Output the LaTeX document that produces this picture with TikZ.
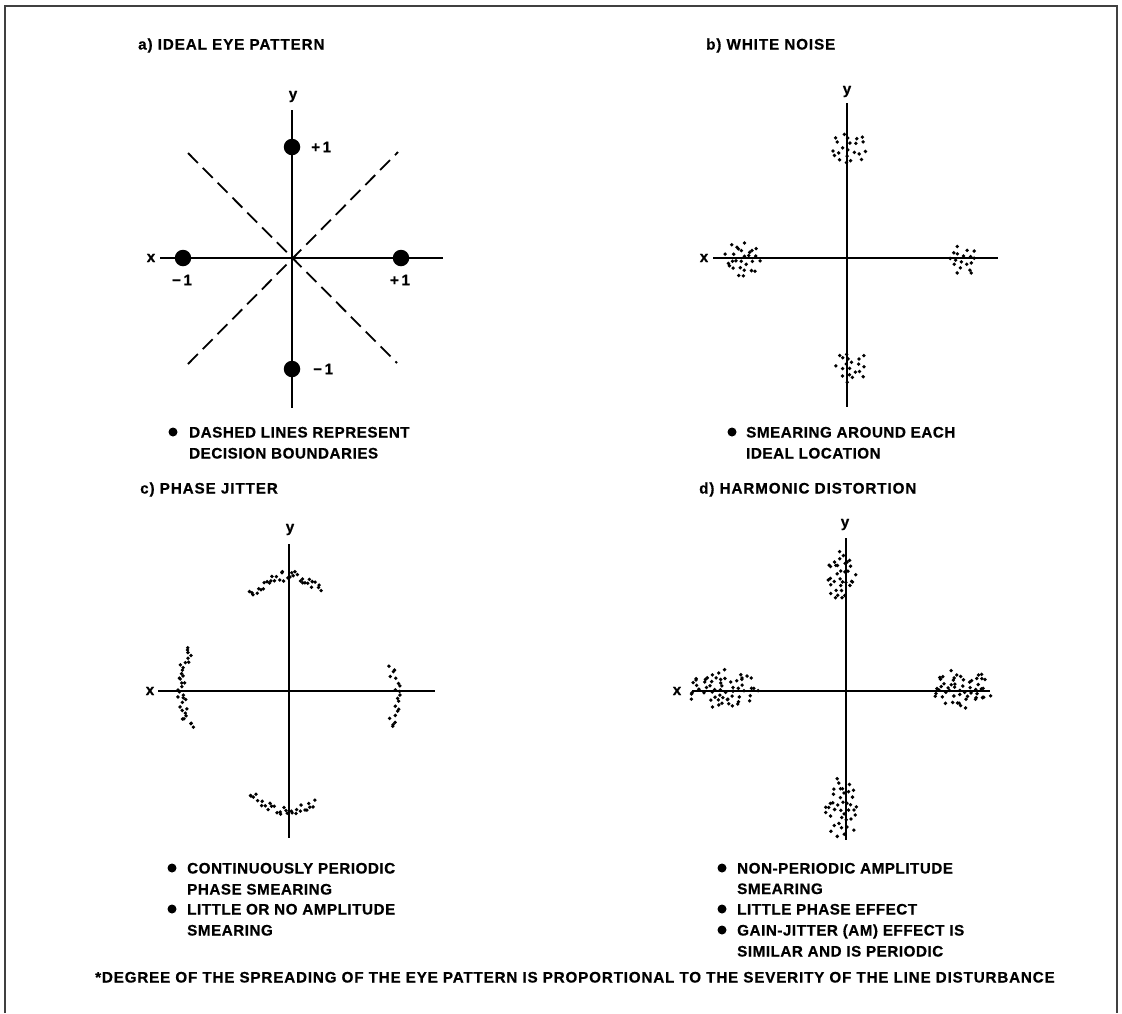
\documentclass[tikz,border=0pt]{standalone}
\usepackage{fontspec}
\setmainfont{Liberation Sans}
\newfontfamily\labfont[LetterSpace=3.5,FakeBold=0.6]{Liberation Sans Bold}
\newfontfamily\titfont[LetterSpace=6,FakeBold=0.6]{Liberation Sans Bold}
\newfontfamily\fnfont[LetterSpace=5.5,FakeBold=0.6]{Liberation Sans Bold}
\usetikzlibrary{calc}

\tikzset{
  ax/.style={line width=2.8pt},
  bnd/.style={line width=1.8pt, dash pattern=on 14pt off 7pt},
  txt/.style={anchor=base west, inner sep=0pt, font=\labfont\fontsize{15.2}{18}\selectfont},
  ttl/.style={anchor=base west, inner sep=0pt, font=\titfont\fontsize{15.2}{18}\selectfont},
  fnt/.style={anchor=base west, inner sep=0pt, font=\fnfont\fontsize{15.2}{18}\selectfont},
  axlab/.style={anchor=base, inner sep=0pt, font=\labfont\fontsize{15.2}{18}\selectfont},
  vallab/.style={inner sep=0pt, font=\labfont\fontsize{15.2}{18}\selectfont},
  frameline/.style={line width=1.1pt, black!75},
  bigdot/.style={circle, fill=black, inner sep=0pt, minimum size=16.5pt},
  bul/.style={circle, fill=black, inner sep=0pt, minimum width=8pt, minimum height=9pt},
}

% evenly spread cloud of dots in an ellipse: cx cy rx ry n seed
\newcommand\dotcloud[6]{%
  \pgfmathsetseed{#6}%
  \foreach \i in {1,...,#5}{%
    \pgfmathsetmacro\rr{min(1.05,sqrt((\i-0.5)/#5)*(1+0.12*rand))}%
    \pgfmathsetmacro\aa{\i*137.508+18*rand}%
    \fill ({#1+#3*\rr*cos(\aa)},{#2+#4*\rr*sin(\aa)}) circle (1.9pt);
  }}
% horizontal arc of dots: cx cy a tmin tmax w n seed ; y = cy + a t^2
\newcommand\dotarcH[8]{%
  \pgfmathsetseed{#8}%
  \foreach \i in {1,...,#7}{%
    \pgfmathsetmacro\tt{#4+(#5-(#4))*(\i-0.5)/#7+1.5*rand}%
    \pgfmathsetmacro\nn{#6*rand}%
    \fill ({#1+\tt},{#2+#3*\tt*\tt+\nn}) circle (1.9pt);
  }}
% vertical arc of dots: cx cy a smin smax w n seed ; x = cx + a s^2
\newcommand\dotarcV[8]{%
  \pgfmathsetseed{#8}%
  \foreach \i in {1,...,#7}{%
    \pgfmathsetmacro\tt{#4+(#5-(#4))*(\i-0.5)/#7+1.5*rand}%
    \pgfmathsetmacro\nn{#6*rand}%
    \fill ({#1+#3*\tt*\tt+\nn},{#2+\tt}) circle (1.9pt);
  }}

\begin{document}
\begin{tikzpicture}[x=1pt,y=-1pt]
\useasboundingbox (0,0) rectangle (1122,1013);

% frame (open at the bottom)
\coordinate (fbl) at (5,1013);
\coordinate (ftl) at (5,6);
\coordinate (ftr) at (1117,6);
\coordinate (fbr) at (1117,1013);
\draw[frameline] (fbl) -- (ftl) -- (ftr) -- (fbr);

% ================= a) ideal eye pattern =================
\node[ttl] (ta) at (138,49.5) {a) IDEAL EYE PATTERN};
\coordinate (a0) at (292,258);
\coordinate (aT) at (292,110);
\coordinate (aB) at (292,408);
\coordinate (aL) at (160,258);
\coordinate (aR) at (443,258);
\draw[ax] (aT) -- (aB);
\draw[ax] (aL) -- (aR);
\node[axlab] (ay) at (293,99) {y};
\node[axlab] (ax) at (151,262) {x};
\coordinate (d1a) at (188,153);
\coordinate (d1b) at (397,363);
\coordinate (d2a) at (188,364);
\coordinate (d2b) at (398,152);
\draw[bnd] (d1a) -- (d1b);
\draw[bnd] (d2a) -- (d2b);
\node[bigdot] (pt) at (292,147) {};
\node[bigdot] (pb) at (292,369) {};
\node[bigdot] (pl) at (183,258) {};
\node[bigdot] (pr) at (401,258) {};
\node[vallab, anchor=west] (lt) at (311,147) {+\,1};
\node[vallab, anchor=west] (lb) at (313,369) {−\,1};
\node[vallab] (ll) at (182,280) {−\,1};
\node[vallab] (lr) at (400,280) {+\,1};
\node[bul] (ba1) at (173,432) {};
\node[txt] (xa1) at (189,437.5) {DASHED LINES REPRESENT};
\node[txt] (xa2) at (189,458.5) {DECISION BOUNDARIES};

% ================= b) white noise =================
\node[ttl] (tb) at (706,49.5) {b) WHITE NOISE};
\coordinate (bT) at (847,103);
\coordinate (bB) at (847,407);
\coordinate (bL) at (713,258);
\coordinate (bR) at (998,258);
\draw[ax] (bT) -- (bB);
\draw[ax] (bL) -- (bR);
\node[axlab] (by) at (847,94) {y};
\node[axlab] (bx) at (704,262) {x};
\dotcloud{850}{148}{18}{18}{22}{11}
\dotcloud{743}{260}{18}{18}{28}{12}
\dotcloud{963}{260}{15}{15}{18}{13}
\dotcloud{852}{367}{16}{16}{20}{14}
\node[bul] (bb1) at (732,432) {};
\node[txt] (xb1) at (746,437.5) {SMEARING AROUND EACH};
\node[txt] (xb2) at (746,458.5) {IDEAL LOCATION};

% ================= c) phase jitter =================
\node[ttl] (tc) at (140,493.5) {c) PHASE JITTER};
\coordinate (cT) at (289,544);
\coordinate (cB) at (289,838);
\coordinate (cL) at (158,691);
\coordinate (cR) at (435,691);
\draw[ax] (cT) -- (cB);
\draw[ax] (cL) -- (cR);
\node[axlab] (cy) at (290,532) {y};
\node[axlab] (cx) at (150,695) {x};
\dotarcH{289}{576}{0.0125}{-40}{34}{5}{36}{21}
\dotarcH{289}{810}{-0.011}{-40}{27}{5}{30}{22}
\dotarcV{182}{688}{0.005}{-40}{40}{4.5}{34}{23}
\dotarcV{397}{697}{-0.008}{-32}{32}{4}{20}{24}
\node[bul] (bc1) at (172,868) {};
\node[txt] (xc1) at (187,873.5) {CONTINUOUSLY PERIODIC};
\node[txt] (xc2) at (187,894.5) {PHASE SMEARING};
\node[bul] (bc2) at (172,909) {};
\node[txt] (xc3) at (187,914.5) {LITTLE OR NO AMPLITUDE};
\node[txt] (xc4) at (187,935.5) {SMEARING};

% ================= d) harmonic distortion =================
\node[ttl] (td) at (699,493.5) {d) HARMONIC DISTORTION};
\coordinate (dT) at (846,538);
\coordinate (dB) at (846,840);
\coordinate (dL) at (692,691);
\coordinate (dR) at (990,691);
\draw[ax] (dT) -- (dB);
\draw[ax] (dL) -- (dR);
\node[axlab] (dy) at (845,527) {y};
\node[axlab] (dx) at (677,695) {x};
\dotcloud{841}{576}{14}{26}{35}{31}
\dotcloud{842}{808}{17}{29}{40}{32}
\dotcloud{723}{689}{35}{19}{60}{33}
\dotcloud{962}{689}{29}{19}{55}{34}
\node[bul] (bd1) at (722,868) {};
\node[txt] (xd1) at (737,873.5) {NON-PERIODIC AMPLITUDE};
\node[txt] (xd2) at (737,894) {SMEARING};
\node[bul] (bd2) at (722,909) {};
\node[txt] (xd3) at (737,914.5) {LITTLE PHASE EFFECT};
\node[bul] (bd3) at (722,930) {};
\node[txt] (xd4) at (737,935.5) {GAIN-JITTER (AM) EFFECT IS};
\node[txt] (xd5) at (737,956.5) {SIMILAR AND IS PERIODIC};

% ================= footnote =================
\node[fnt] (fn) at (95,982.5) {*DEGREE OF THE SPREADING OF THE EYE PATTERN IS PROPORTIONAL TO THE SEVERITY OF THE LINE DISTURBANCE};
\end{tikzpicture}
\end{document}
